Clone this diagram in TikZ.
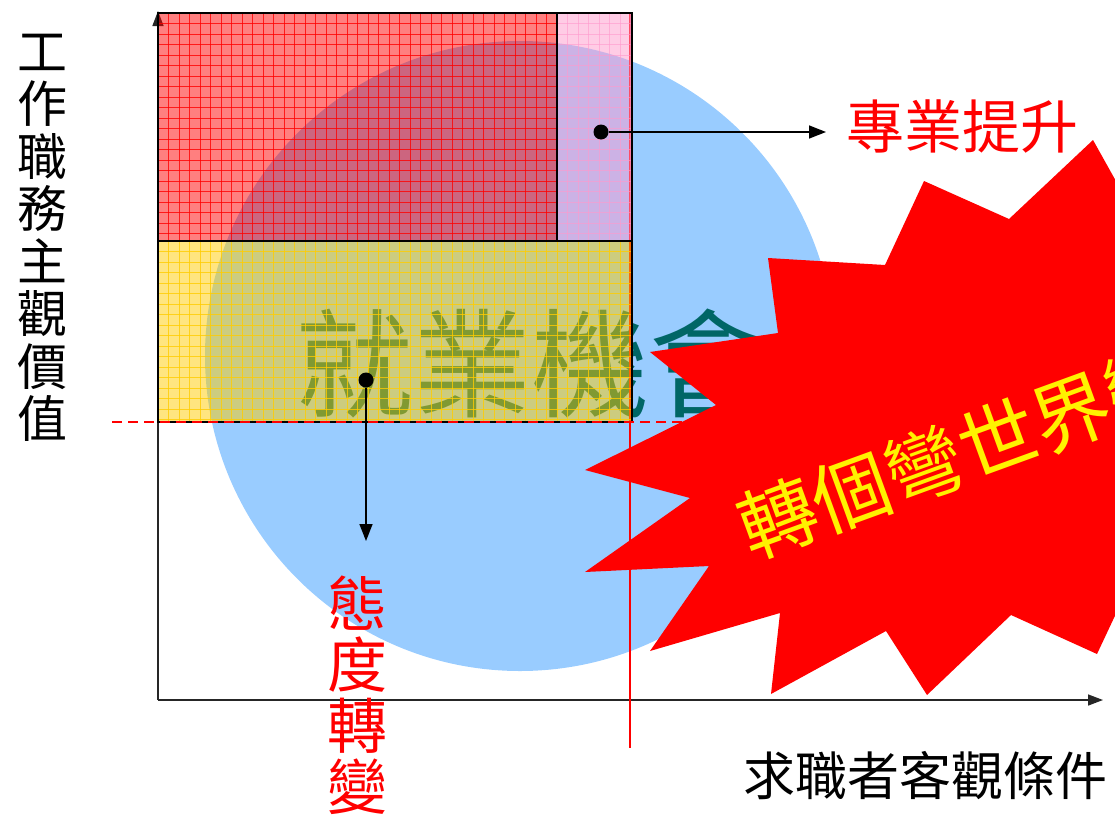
\documentclass[tikz,border=0pt]{standalone}
\usepackage{fontspec}
\newfontfamily\cjk{Noto Sans CJK TC}
\usetikzlibrary{arrows.meta}
\definecolor{skyblue}{HTML}{99CCFF}
\definecolor{deepteal}{HTML}{006666}
\definecolor{rosefill}{HTML}{FF99CC}
\definecolor{goldfill}{HTML}{FFCC00}
\tikzset{
	box/.style={draw=black,line width=2pt},
	dot/.style={shape=circle,fill=black,inner sep=0pt,minimum size=15pt},
	pointer/.style={-{Triangle[length=17pt,width=13pt]},line width=1.5pt,black},
	axis/.style={-{Triangle[length=15pt,width=11pt]},line width=1.5pt,black!85!white},
	redword/.style={text=red,inner sep=0pt,align=center},
	blackword/.style={text=black,inner sep=0pt,align=center}
}
\begin{document}
\begin{tikzpicture}[x=1pt,y=-1pt]
	\useasboundingbox (0,0) rectangle (1115,819);
	\clip (0,0) rectangle (1115,819);
	
	\fill[skyblue] (520,356) circle[radius=315pt];
	\node[text=deepteal,inner sep=0pt,font=\cjk\fontsize{118}{118}\selectfont] (job) at (531,364) {就業機會};
	
	% axes
	\coordinate (O) at (158,700);
	\coordinate (Ytop) at (158,11);
	\coordinate (Xend) at (1103,700);
	\draw[axis] (O) -- (Ytop);
	\draw[axis] (O) -- (Xend);
	
	\coordinate (Vtop) at (630,13);
	\coordinate (Vbot) at (630,748);
	\draw[red,line width=1.5pt] (Vtop) -- (Vbot);
	
	% boxes with grids
	\fill[red,fill opacity=0.5] (158,13) rectangle (557,241);
	\foreach \i in {1,...,37} \draw[red,line width=0.8pt,opacity=0.8] ({158+10.5*\i},13) -- ({158+10.5*\i},241);
	\foreach \i in {1,...,21} \draw[red,line width=0.8pt,opacity=0.8] (158,{13+10.5*\i}) -- (557,{13+10.5*\i});
	
	\fill[rosefill,fill opacity=0.5] (557,13) rectangle (632,241);
	\foreach \i in {1,...,7} \draw[rosefill,line width=0.8pt,opacity=0.6] ({557+10.5*\i},13) -- ({557+10.5*\i},241);
	\foreach \i in {1,...,21} \draw[rosefill,line width=0.8pt,opacity=0.6] (557,{13+10.5*\i}) -- (632,{13+10.5*\i});
	
	\fill[goldfill,fill opacity=0.5] (158,241) rectangle (632,422);
	\foreach \i in {1,...,44} \draw[goldfill,line width=0.8pt,opacity=0.8] ({158+10.5*\i},241) -- ({158+10.5*\i},422);
	\foreach \i in {1,...,17} \draw[goldfill,line width=0.8pt,opacity=0.8] (158,{241+10.5*\i}) -- (632,{241+10.5*\i});
	
	\path[box] (158,13) rectangle (557,241);
	\path[box] (557,13) rectangle (632,241);
	\path[box] (158,241) rectangle (632,422);
	
	\coordinate (Dl) at (112,422);
	\coordinate (Dr) at (720,422);
	\draw[red,line width=1.2pt,dash pattern=on 10pt off 6pt] (Dl) -- (Dr);
	
	% pointers
	\node[dot] (pro) at (601,132) {};
	\coordinate (proend) at (826,132);
	\draw[pointer] (pro) -- (proend);
	\node[redword,font=\cjk\fontsize{58}{58}\selectfont] (protext) at (962,126) {專業提升};
	
	\node[dot] (att) at (366,380) {};
	\coordinate (attend) at (366,541);
	\draw[pointer] (att) -- (attend);
	\node[redword,font=\cjk\fontsize{60}{61}\selectfont] (atttext) at (357,695) {態\\度\\轉\\變};
	
	% axis labels
	\node[blackword,font=\cjk\fontsize{50}{52.5}\selectfont] (ylab) at (42,238) {工\\作\\職\\務\\主\\觀\\價\\值};
	\node[blackword,font=\cjk\fontsize{52}{52}\selectfont] (xlab) at (925,776) {求職者客觀條件};
	
	% burst
	\fill[red] (1093,140) -- (1009,219) -- (924,181) -- (885,265) -- (768,258) -- (778,333)
	-- (650,352) -- (716,405) -- (585,470) -- (690,498) -- (585,572) -- (709,566)
	-- (650,651) -- (780,613) -- (771,694) -- (886,631) -- (927,695) -- (1011,615)
	-- (1097,654) -- (1160,520) -- (1160,260) -- cycle;
	\node[text=yellow,inner sep=0pt,rotate=20,font=\cjk\fontsize{78}{78}\selectfont] (turn) at (961,452) {轉個彎世界變};
	
\end{tikzpicture}
\end{document}
